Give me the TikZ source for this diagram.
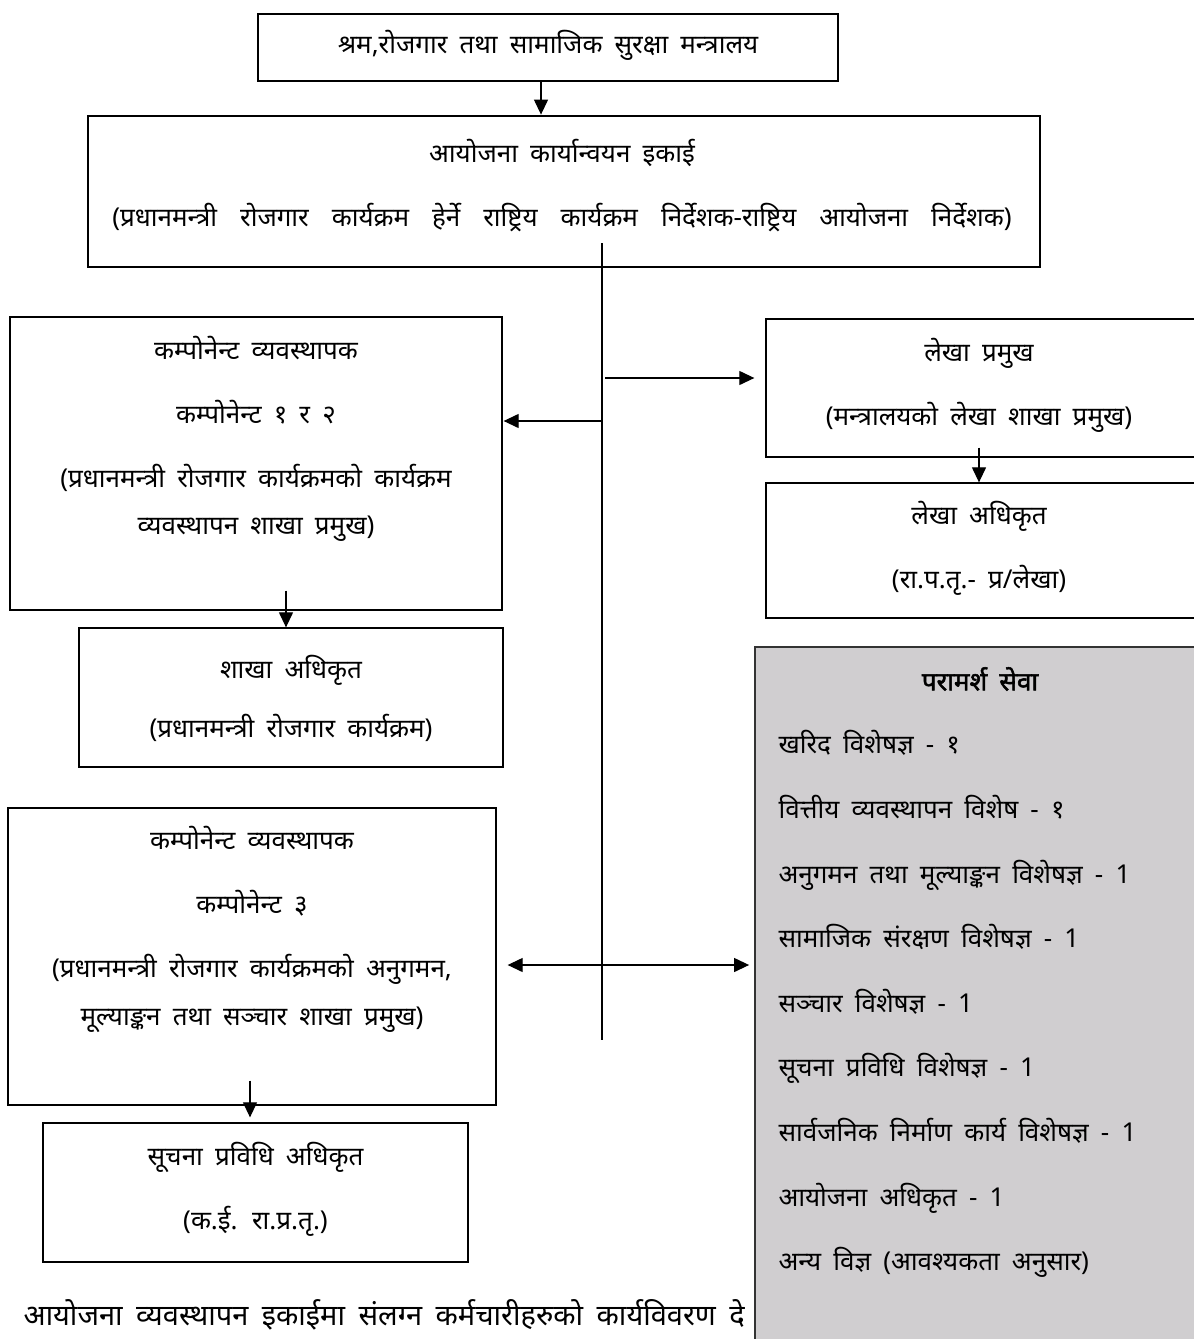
\documentclass[tikz,border=0pt]{standalone}
\usepackage{fontspec}
\setmainfont{Noto Sans}[Script=Devanagari,WordSpace=1.8]
\newfontfamily\titlefont{Noto Sans}[Script=Devanagari,WordSpace=1.8,FakeBold=2]
\usepackage{tikz}
\usetikzlibrary{arrows.meta,positioning}
\definecolor{panelgrey}{RGB}{208,206,208}

\begin{document}
\begin{tikzpicture}[x=1pt,y=-1pt,
  unit/.style={draw,line width=1.3pt,inner sep=0pt},
  head/.style={unit,line width=2.8pt},
  panel/.style={unit,line width=1.8pt,draw=black!80,fill=panelgrey},
  txt/.style={align=center,font=\fontsize{26}{64}\selectfont},
  list/.style={align=left,font=\fontsize{26}{64.6}\selectfont},
  link/.style={draw,-{Triangle[length=15pt,width=14pt]},line width=1.2pt},
  both/.style={link,{Triangle[length=15pt,width=14pt]}-{Triangle[length=15pt,width=14pt]}}
]
\clip (0,0) rectangle (1194,1339);
\fill[white] (0,0) rectangle (1194,1339);

\node[head,minimum width=580,minimum height=67] (ministry) at (548,47.5) {};
\node[txt] (ministrytxt) at (548,45) {श्रम,रोजगार तथा सामाजिक सुरक्षा मन्त्रालय};
\node[head,minimum width=952,minimum height=151] (piu) at (564,191.5) {};
\node[txt] (piutxt) at (562,185.5) {आयोजना कार्यान्वयन इकाई\\{\spaceskip=23pt (प्रधानमन्त्री रोजगार कार्यक्रम हेर्ने राष्ट्रिय कार्यक्रम निर्देशक-राष्ट्रिय आयोजना निर्देशक)}};

\node[unit,minimum width=492,minimum height=293] (comp1) at (256,463.5) {};
\node[txt] (comp1txt) at (256,439) {कम्पोनेन्ट व्यवस्थापक\\कम्पोनेन्ट १ र २\\(प्रधानमन्त्री रोजगार कार्यक्रमको कार्यक्रम\\[-17pt]व्यवस्थापन शाखा प्रमुख)};
\node[unit,minimum width=424,minimum height=139] (shakha) at (291,697.5) {};
\node[txt] (shakhatxt) at (291,698) {शाखा अधिकृत\\[-5pt](प्रधानमन्त्री रोजगार कार्यक्रम)};

\node[unit,minimum width=444,minimum height=138] (lekhahead) at (988,388) {};
\node[txt] (lekhaheadtxt) at (979,385.5) {लेखा प्रमुख\\(मन्त्रालयको लेखा शाखा प्रमुख)};
\node[unit,minimum width=444,minimum height=135] (lekhaofficer) at (988,550.5) {};
\node[txt] (lekhaofficertxt) at (979,548.5) {लेखा अधिकृत\\(रा.प.तृ.- प्र/लेखा)};

\node[unit,minimum width=488,minimum height=297] (comp2) at (252,956.5) {};
\node[txt] (comp2txt) at (252,929) {कम्पोनेन्ट व्यवस्थापक\\कम्पोनेन्ट ३\\(प्रधानमन्त्री रोजगार कार्यक्रमको अनुगमन,\\[-16pt]मूल्याङ्कन तथा सञ्चार शाखा प्रमुख)};
\node[unit,minimum width=425,minimum height=139] (itofficer) at (255.5,1192.5) {};
\node[txt] (itofficertxt) at (255.5,1189.5) {सूचना प्रविधि अधिकृत\\(क.ई. रा.प्र.तृ.)};

% note text runs under the grey panel
\node[anchor=base west,font=\fontsize{29}{34}\selectfont] (note) at (20,1325) {आयोजना व्यवस्थापन इकाईमा संलग्न कर्मचारीहरुको कार्यविवरण दे};

\node[panel,minimum width=460,minimum height=703] (consult) at (985,998.5) {};
\node[txt,font=\fontsize{26}{64}\titlefont] (consulttitle) at (980,679) {परामर्श सेवा};
\node[list,anchor=north west] (consultlist) at (775,727) {खरिद विशेषज्ञ - १\\वित्तीय व्यवस्थापन विशेष - १\\अनुगमन तथा मूल्याङ्कन विशेषज्ञ - 1\\सामाजिक संरक्षण विशेषज्ञ - 1\\सञ्चार विशेषज्ञ - 1\\सूचना प्रविधि विशेषज्ञ - 1\\सार्वजनिक निर्माण कार्य विशेषज्ञ - 1\\आयोजना अधिकृत - 1\\अन्य विज्ञ (आवश्यकता अनुसार)};

% connectors
\coordinate (spinetop) at (602,243);
\coordinate (spinebot) at (602,1040);
\coordinate (tapA) at (605,378);
\coordinate (tapB) at (602,421);
\coordinate (tapC) at (602,965);
\draw[line width=1.2pt] (spinetop) -- (spinebot);
\draw[link] ([xshift=-7pt]ministry.south) -- ([xshift=-7pt]ministry.south |- piu.north);
\draw[link,shorten >=11pt] (tapA) -- (tapA -| lekhahead.west);
\draw[link,shorten >=1pt] (tapB) -- (tapB -| comp1.east);
\draw[both,shorten <=11pt,shorten >=5pt] (tapC -| comp2.east) -- (tapC -| consult.west);
\draw[link] ([xshift=30pt,yshift=20pt]comp1.south) -- ([xshift=30pt]comp1.south |- shakha.north);
\draw[link] ([xshift=-9pt,yshift=10pt]lekhahead.south) -- ([xshift=-9pt]lekhahead.south |- lekhaofficer.north);
\draw[link,shorten >=5pt] ([xshift=-2pt,yshift=25pt]comp2.south) -- ([xshift=-2pt]comp2.south |- itofficer.north);
\end{tikzpicture}
\end{document}
